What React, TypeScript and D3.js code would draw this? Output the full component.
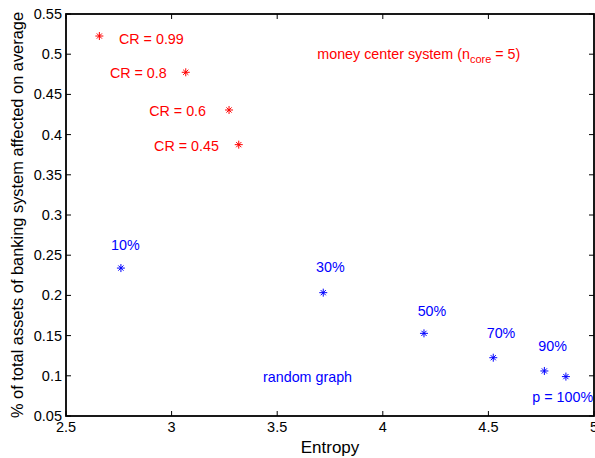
import * as d3 from "d3";

const xTicks = [2.5, 3, 3.5, 4, 4.5, 5];
const yTicks = [0.05, 0.1, 0.15, 0.2, 0.25, 0.3, 0.35, 0.4, 0.45, 0.5, 0.55];

// money center system (red)
const coreEntropy = [2.658, 3.067, 3.272, 3.318];
const coreAffected = [0.5226, 0.4775, 0.4306, 0.3875];
const coreLabels = ["CR = 0.99", "CR = 0.8", "CR = 0.6", "CR = 0.45"];
const coreLabelX = [2.751, 2.708, 2.894, 2.917];
const coreLabelY = [0.5127, 0.4708, 0.4231, 0.38];

// random graph (blue)
const randEntropy = [2.76, 3.718, 4.195, 4.523, 4.765, 4.867];
const randAffected = [0.234, 0.2034, 0.1528, 0.1225, 0.106, 0.099];
const randLabels = ["10%", "30%", "50%", "70%", "90%", "p = 100%"];
const randLabelX = [2.713, 3.684, 4.165, 4.492, 4.736, 4.708];
const randLabelY = [0.2565, 0.2295, 0.1744, 0.1474, 0.1312, 0.0678];

const W = 595;
const H = 458;
const margin = { left: 66, right: 1, top: 14, bottom: 42 };
const font = "'Liberation Sans', Arial, Helvetica, sans-serif";

const x = d3.scaleLinear().domain([2.5, 5]).range([margin.left, W - margin.right]);
const y = d3.scaleLinear().domain([0.05, 0.55]).range([H - margin.bottom, margin.top]);

const star = (cx: number, cy: number, color: string, key: string) => {
  const r = 4;
  const d = 2.6;
  const p = d3.path();
  p.moveTo(cx - r, cy); p.lineTo(cx + r, cy);
  p.moveTo(cx, cy - r); p.lineTo(cx, cy + r);
  p.moveTo(cx - d, cy - d); p.lineTo(cx + d, cy + d);
  p.moveTo(cx - d, cy + d); p.lineTo(cx + d, cy - d);
  return <path key={key} d={p.toString()} stroke={color} strokeWidth={1} fill="none" />;
};

export default function App() {
  const x0 = x.range()[0], x1 = x.range()[1];
  const y0 = y.range()[0], y1 = y.range()[1];
  const red = "#ff0000";
  const blue = "#0000ff";
  const annSize = 14.3;
  return (
    <svg width={W} height={H} style={{ position: "absolute", left: 0, top: 0, background: "#fff" }} fontFamily={font}>
      <rect x={0} y={0} width={W} height={H} fill="#fff" />
      {xTicks.map((t) => (
        <g key={"xt" + t}>
          <line x1={x(t)} x2={x(t)} y1={y0} y2={y0 - 5} stroke="#000" />
          <line x1={x(t)} x2={x(t)} y1={y1} y2={y1 + 5} stroke="#000" />
          <text x={x(t)} y={y0 + 16} fontSize={14.5} textAnchor="middle">{t}</text>
        </g>
      ))}
      {yTicks.map((t) => (
        <g key={"yt" + t}>
          <line x1={x0} x2={x0 + 5} y1={y(t)} y2={y(t)} stroke="#000" />
          <line x1={x1} x2={x1 - 5} y1={y(t)} y2={y(t)} stroke="#000" />
          <text x={x0 - 4} y={y(t) + 5} fontSize={14.5} textAnchor="end">{t}</text>
        </g>
      ))}
      <rect x={x0} y={y1} width={x1 - x0} height={y0 - y1} fill="none" stroke="#000" strokeWidth={1.8} />
      <text x={(x0 + x1) / 2} y={H - 5} fontSize={17} textAnchor="middle">Entropy</text>
      <text transform={`translate(23, ${(y0 + y1) / 2}) rotate(-90)`} fontSize={16.4} textAnchor="middle">
        % of total assets of banking system affected on average
      </text>

      {coreEntropy.map((e, i) => star(x(e), y(coreAffected[i]), red, "c" + i))}
      {coreLabels.map((l, i) => (
        <text key={"cl" + i} x={x(coreLabelX[i])} y={y(coreLabelY[i])} fontSize={annSize} fill={red}>{l}</text>
      ))}
      <text x={x(3.69)} y={y(0.4936)} fontSize={annSize} fill={red}>
        money center system (n<tspan fontSize={11} dy={4}>core</tspan><tspan dy={-4}> = 5)</tspan>
      </text>

      {randEntropy.map((e, i) => star(x(e), y(randAffected[i]), blue, "r" + i))}
      {randLabels.map((l, i) => (
        <text key={"rl" + i} x={x(randLabelX[i])} y={y(randLabelY[i])} fontSize={annSize} fill={blue}>{l}</text>
      ))}
      <text x={x(3.433)} y={y(0.0923)} fontSize={annSize} fill={blue}>random graph</text>
    </svg>
  );
}
